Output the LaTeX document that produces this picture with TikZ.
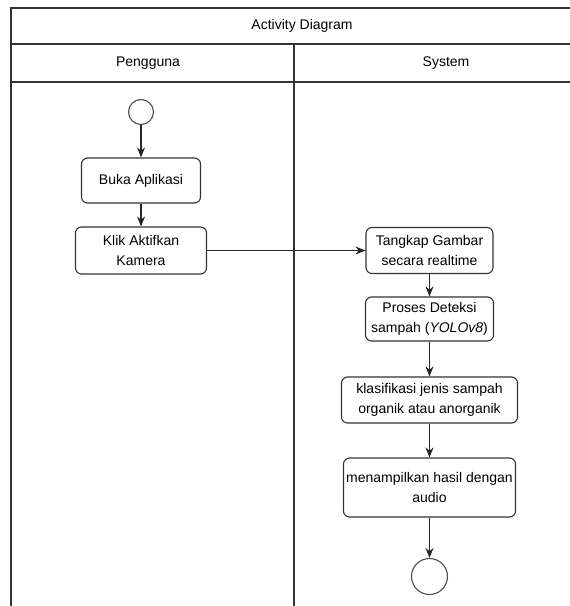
\documentclass[tikz,border=0pt]{standalone}
\usepackage{fontspec}
\setmainfont{Liberation Sans}
\usetikzlibrary{arrows.meta}

\begin{document}
\begin{tikzpicture}[x=1pt,y=-1pt,
	lane/.style={draw=black!80, line width=1.1pt},
	act/.style={draw=black!80, line width=1.1pt, rounded corners=6pt, align=center, inner sep=0pt, font=\fontsize{14}{20}\selectfont},
	state/.style={draw=black!70, line width=1.1pt, circle, inner sep=0pt},
	flow/.style={draw=black!85, line width=1.1pt, -{Stealth[length=10pt,width=8pt]}}]
	\clip (0,0) rectangle (570,606);
	% Swimlanes
	\draw[lane] (11,620) -- (11,8) -- (590,8);
	\draw[lane] (11,44) -- (590,44);
	\draw[lane] (11,82) -- (590,82);
	\draw[lane] (294,44) -- (294,620);
	\node[font=\fontsize{14}{17}\selectfont] (title) at (302,26) {Activity Diagram};
	\node[font=\fontsize{14}{17}\selectfont] (pengguna) at (148,63) {Pengguna};
	\node[font=\fontsize{14}{17}\selectfont] (system) at (446,63) {System};
	% Pengguna
	\node[state, minimum size=25pt] (start) at (141,112) {};
	\node[act, minimum width=119pt, minimum height=45pt] (buka) at (141,180.5) {Buka Aplikasi};
	\node[act, minimum width=131pt, minimum height=47pt] (klik) at (141,250.5) {Klik Aktifkan\\Kamera};
	% System
	\node[act, minimum width=127pt, minimum height=46pt] (tangkap) at (429.5,250.5) {Tangkap Gambar\\secara realtime};
	\node[act, minimum width=128pt, minimum height=44pt] (proses) at (429.5,319) {Proses Deteksi\\sampah (\textit{YOLOv8})};
	\node[act, minimum width=176pt, minimum height=46pt] (klasifikasi) at (429.5,400) {klasifikasi jenis sampah\\organik atau anorganik};
	\node[act, minimum width=172pt, minimum height=59pt] (tampil) at (429.5,487.5) {menampilkan hasil dengan\\audio};
	\node[state, minimum size=36pt] (end) at (429.5,576.5) {};
	% Flows
	\foreach \a/\b in {start/buka, buka/klik, klik/tangkap, tangkap/proses, proses/klasifikasi, klasifikasi/tampil, tampil/end}
	\draw[flow] (\a) -- (\b);
\end{tikzpicture}
\end{document}
